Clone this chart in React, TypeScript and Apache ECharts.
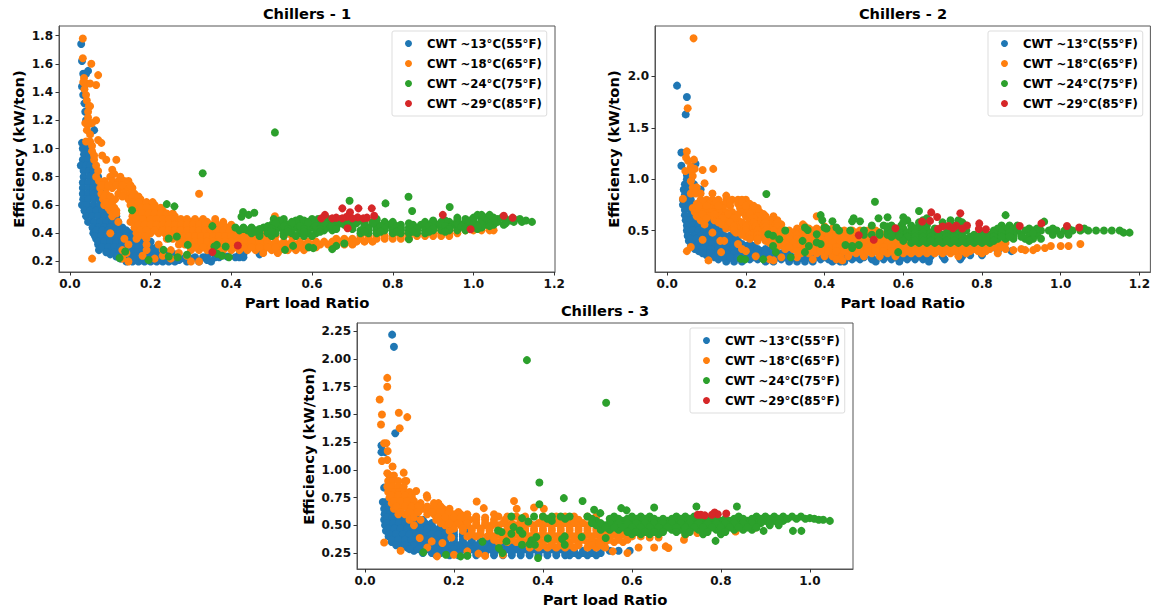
import React, { useEffect, useRef } from "react";
import * as echarts from "echarts";

type Row = [number, number[]];
const names = ["CWT ~13°C(55°F)", "CWT ~18°C(65°F)", "CWT ~24°C(75°F)", "CWT ~29°C(85°F)"];
const colors = ["#1f77b4", "#ff7f0e", "#2ca02c", "#d62728"];
const titles = ["Chillers - 1", "Chillers - 2", "Chillers - 3"];

const xTicks1 = [0, 0.2, 0.4, 0.6, 0.8, 1.0, 1.2];
const yTicks1 = [0.2, 0.4, 0.6, 0.8, 1.0, 1.2, 1.4, 1.6, 1.8];
const xTicks2 = [0, 0.2, 0.4, 0.6, 0.8, 1.0, 1.2];
const yTicks2 = [0.5, 1.0, 1.5, 2.0];
const xTicks3 = [0, 0.2, 0.4, 0.6, 0.8, 1.0];
const yTicks3 = [0.25, 0.5, 0.75, 1.0, 1.25, 1.5, 1.75, 2.0, 2.25];

// Chillers - 1: rows of [efficiency, part load ratios]
const c1Blue: Row[] = [
  [1.74,[.028]],[1.62,[.03]],[1.55,[.045]],[1.53,[.033,.04]],[1.44,[.03,.036]],[1.38,[.033]],[1.32,[.036,.04]],[1.26,[.038]],[1.2,[.04]],[1.13,[.06]],
  [1.04,[.03,.04,.05]],[1.0,[.032,.045]],[.96,[.035,.048]],[.92,[.032,.046]],[.88,[.027,.04,.05]],[.84,[.034,.047,.058]],
  [.8,[.034,.048,.06,.07]],[.76,[.032,.046,.06,.072]],[.72,[.032,.045,.058,.07]],[.68,[.032,.045,.058,.07,.082]],[.64,[.033,.046,.06,.074,.088]],
  [.6,[.03,.044,.058,.072,.086]],[.56,[.036,.05,.065,.08,.095,.105]],[.52,[.04,.055,.07,.085,.1,.115]],[.48,[.045,.06,.075,.09,.105,.12]],
  [.44,[.056,.07,.085,.1,.115,.13]],[.4,[.058,.072,.088,.104,.12,.135,.15,.175]],[.36,[.065,.08,.095,.11,.125,.14,.155]],
  [.32,[.07,.085,.1,.115,.13,.145,.16,.175,.19]],[.28,[.072,.09,.105,.12,.135,.15,.165,.18,.195,.21,.225]],
  [.25,[.1,.115,.13,.145,.16,.175,.19,.205,.22,.24,.26,.42,.43,.47]],[.23,[.31,.33,.36,.37,.41,.42,.43]],
  [.22,[.125,.14,.155,.17,.185,.2,.215,.23,.245,.26,.275,.3]],[.2,[.14,.155,.17,.185,.2,.215,.23,.245,.26,.29,.32,.35]],
  [.42,[.065,.08,.095,.11,.125,.14,.16]],[.38,[.062,.078,.092,.108,.122,.14,.16]],[.34,[.07,.085,.1,.115,.13,.145,.16,.18,.2]],[.3,[.08,.095,.11,.125,.14,.155,.17,.185,.2,.215]],
  [.265,[.09,.11,.125,.14,.155,.17,.185,.2,.215,.23,.25]],[.21,[.15,.165,.18,.195,.21,.225,.24,.27,.3,.34]],[.235,[.115,.13,.145,.16,.175,.19,.205,.22,.235,.25,.27,.29,.34,.39]],
];
const c1Orange: Row[] = [
  [1.78,[.032]],[1.64,[.032]],[1.6,[.053]],[1.52,[.07]],[1.5,[.035]],[1.47,[.033]],[1.46,[.04,.05]],[1.45,[.065]],[1.42,[.036]],[1.38,[.04]],[1.34,[.042]],[1.3,[.047,.05]],
  [1.26,[.045]],[1.22,[.045]],[1.2,[.065]],[1.18,[.038,.055]],[1.17,[.045]],[1.13,[.042]],[1.1,[.05]],[1.06,[.07]],[1.05,[.04,.05]],[1.04,[.078]],[1.02,[.055]],[.98,[.055]],
  [.95,[.06,.08]],[.92,[.06,.09,.115]],[.88,[.065]],[.85,[.105]],[.84,[.07]],[.82,[.11]],[.8,[.065,.1,.125]],
  [.77,[.072,.086,.105,.12,.135,.145]],[.72,[.075,.09,.105,.125,.14,.155]],[.68,[.078,.09,.12,.135,.15,.16,.32]],[.64,[.082,.095,.112,.145,.16,.175]],
  [.6,[.085,.1,.15,.165,.18,.195,.21]],[.56,[.1,.115,.155,.17,.185,.2,.215,.23]],[.52,[.105,.155,.17,.185,.2,.215,.23,.245,.26,.508]],
  [.48,[.12,.15,.165,.18,.195,.21,.225,.24,.255,.27,.285,.3,.32,.34,.36,.38]],[.44,[.16,.175,.19,.205,.22,.235,.25,.265,.28,.295,.31,.325,.34,.355,.37,.39]],
  [.4,[.1,.165,.18,.2,.22,.235,.25,.265,.28,.295,.31,.325,.34,.355,.37,.385,.4,.42,.44,.46,.48,.82,.84,.86,.9,.92,.94,.96]],
  [.36,[.135,.165,.19,.24,.255,.27,.285,.3,.315,.33,.345,.36,.375,.39,.405,.42,.44,.46,.48,.66,.68,.7,.72,.74,.76,.78,.8,.82,.84]],
  [.32,[.145,.19,.22,.27,.285,.3,.315,.33,.345,.36,.375,.39,.405,.42,.44,.46,.48,.5,.52,.54,.56,.58,.6,.62,.64,.66,.68,.7]],
  [.28,[.13,.19,.23,.25,.3,.32,.34,.36,.38,.4,.42,.44,.46,.48,.5,.52,.54,.56,.58]],
  [.38,[.72,.74,.76,.78,.8,.82,.84,.86,.88,.9,.92,.94]],[.42,[.92,.94,.96,.98,1.0,1.02,1.04,1.05]],[.44,[1.0,1.02,1.04]],
  [.26,[.479,.515,.14,.27]],[.24,[.23,.18,.29]],[.22,[.055,.13,.21,.25]],[.2,[.145,.3,.32]],
  [.74,[.08,.095,.115,.13,.15]],[.66,[.085,.1,.13,.155,.17]],[.62,[.09,.105,.155,.17,.19,.205]],[.58,[.095,.11,.16,.175,.19,.21,.225]],[.54,[.115,.16,.18,.195,.21,.225,.24,.255]],
  [.5,[.165,.18,.2,.215,.23,.245,.26,.275,.29,.31,.33,.36]],[.46,[.17,.185,.2,.215,.23,.245,.26,.275,.29,.305,.32,.335,.35,.365,.38,.4]],
  [.42,[.175,.19,.21,.23,.245,.26,.275,.29,.305,.32,.335,.35,.365,.38,.395,.41,.43,.45,.47]],
  [.38,[.17,.185,.25,.265,.28,.295,.31,.325,.34,.355,.37,.385,.4,.415,.43,.45,.47,.49,.51,.53,.55]],
  [.34,[.28,.295,.31,.325,.34,.355,.37,.385,.4,.415,.43,.45,.47,.49,.51,.53,.55,.57,.59,.61,.63,.65,.67,.69,.71,.73,.75]],
  [.3,[.31,.33,.35,.37,.39,.41,.43,.45,.47,.49,.51,.53,.55,.57,.59,.61]],
];
const c1Green: Row[] = [
  [1.114,[.508]],[.825,[.329]],[.658,[.839]],[.63,[.693]],[.611,[.782]],[.606,[.24]],[.59,[.259]],[.585,[.941]],[.562,[.154]],[.557,[.848]],[.55,[.429]],[.545,[.457]],[.53,[.443]],[.517,[.425]],
  [.5,[.505,.53,.57,.6,.615,.64,.67,.7,.73,.76,.98,1.0,1.02,1.04,1.06,1.08,1.1,1.115]],
  [.48,[.51,.53,.55,.57,.59,.61,.63,.65,.67,.69,.71,.73,.75,.78,.8,.88,.9,.92,.94,.96,.98,1.0,1.02,1.04,1.06,1.08,1.1,1.12,1.145]],
  [.46,[.5,.52,.54,.56,.58,.6,.62,.64,.66,.68,.7,.73,.76,.79,.82,.85,.87,.89,.91,.93,.95,.97,.99,1.01,1.03,1.05,1.075]],
  [.44,[.41,.43,.45,.48,.5,.52,.54,.56,.58,.6,.62,.64,.66,.7,.74,.76,.78,.8,.82,.84,.86,.88,.9,.92,.94,.96,.98,1.0,1.02]],
  [.42,[.42,.44,.46,.49,.51,.53,.55,.57,.59,.61,.63,.65,.72,.74,.76,.78,.8,.82,.84,.86,.88,.9,.92,.94,.96,.98]],
  [.4,[.45,.47,.49,.51,.53,.55,.57,.59,.61,.72,.74,.76,.8,.82,.84,.86,.88]],[.38,[.47,.5,.53,.56,.58,.6]],
  [.45,[.353]],[.376,[.265]],[.362,[.245]],[.357,[.84]],[.327,[.68]],[.317,[.292,.364]],[.31,[.553,.66]],[.306,[.358,.386]],[.3,[.592]],[.294,[.603]],[.287,[.65]],[.282,[.232,.533]],[.27,[.137]],
  [.254,[.365]],[.247,[.29]],[.24,[.377]],[.235,[.245]],[.23,[.267,.394]],[.224,[.123]],[.21,[.195]],
  [.49,[.52,.56,.58,.6,.63,.66,.69,.72,.76,.9,.93,.96,.99,1.02,1.05,1.09,1.13]],[.47,[.51,.55,.59,.63,.67,.71,.75,.8,.84,.88,.92,.96,1.0,1.04,1.08]],[.45,[.49,.53,.57,.61,.65,.69,.73,.77,.81,.85,.89,.93,.97,1.01,1.04]],
  [.43,[.43,.47,.5,.54,.58,.62,.66,.7,.74,.78,.82,.86,.9,.94,.98,1.01]],[.41,[.46,.5,.54,.58,.62,.73,.77,.81,.85,.89,.93]],[.51,[.96,1.0,1.03,1.05,1.07]],[.53,[1.01,1.02,1.04]],
];
const c1Red: Row[] = [
  [.576,[.675,.715,.748]],[.548,[.694]],[.53,[.632,.924]],[.524,[.754,1.075]],[.517,[.686]],[.512,[.713]],[.51,[.66,.736,1.097]],[.505,[.623,.65,.675,.7,.727]],[.435,[.688]],[.428,[.993]],[.313,[.416]],[.266,[.353]],
];

// Chillers - 2
const c2Blue: Row[] = [
  [1.91,[.025]],[1.8,[.05]],[1.63,[.047]],[1.26,[.036]],[1.15,[.072]],[1.13,[.036]],[1.04,[.05,.058]],[1.0,[.05,.06]],[.95,[.045,.055,.068]],[.9,[.042,.055,.07,.085]],[.85,[.045,.058]],
  [.8,[.04,.05,.06]],[.75,[.04,.055,.07]],[.7,[.045,.06,.075,.09]],[.65,[.045,.06,.075,.09]],[.6,[.047,.06,.075,.09,.105]],[.55,[.05,.065,.08,.095,.11,.125]],[.5,[.05,.065,.08,.095,.11,.125,.14]],
  [.45,[.052,.068,.085,.1,.115,.13,.145,.16]],[.4,[.055,.07,.085,.1,.115,.13,.15,.165,.18]],[.35,[.06,.075,.09,.105,.12,.14,.16,.18,.2,.22]],[.3,[.08,.1,.12,.14,.16,.18,.2,.22,.24,.26,.875,.84]],
  [.26,[.1,.12,.14,.16,.18,.2,.22,.24,.26,.28,.3,.8,.77]],[.25,[.38,.4,.45,.5,.54,.56,.6,.62,.64,.66,.67,.7,.75]],
  [.22,[.13,.15,.17,.19,.21,.23,.25,.27,.29,.31,.33,.35,.37,.39,.41,.43,.45,.47,.49,.52,.55,.57,.59,.61,.63,.65,.665,.705,.745]],[.2,[.15,.17,.19,.25,.27,.31,.33,.35,.37,.42,.44,.45,.53,.59,.665]],
  [.42,[.06,.075,.09,.105,.12,.14,.16,.175]],[.37,[.065,.08,.1,.115,.13,.15,.17,.19,.21]],[.32,[.07,.09,.11,.13,.15,.17,.19,.21,.23,.25]],[.28,[.09,.11,.13,.15,.17,.19,.21,.23,.25,.27,.29,.31]],
  [.24,[.12,.14,.16,.18,.2,.22,.24,.26,.28,.3,.32,.34,.36,.4,.42,.44,.46,.48,.5,.52,.55,.58,.6,.63,.66]],
];
const c2Orange: Row[] = [
  [2.37,[.067]],[1.69,[.052]],[1.27,[.05]],[1.21,[.048]],[1.19,[.068]],[1.18,[.053]],[1.12,[.06]],[1.1,[.07,.117]],[1.09,[.09]],[1.08,[.046,.062]],[1.03,[.065]],[.98,[.06]],[.96,[.095]],[.92,[.065,.075]],
  [.86,[.06,.072,.085,.115]],[.84,[.15]],[.81,[.04]],
  [.8,[.085,.1,.115,.13,.15,.165,.18,.19,.2]],[.76,[.075,.09,.105,.12,.135,.15,.18,.195,.21]],[.72,[.065,.08,.095,.11,.125,.14,.185,.2,.215,.23]],[.68,[.07,.085,.1,.115,.135,.15,.165,.19,.205,.22,.235]],
  [.64,[.075,.09,.105,.13,.145,.16,.175,.2,.215,.23,.25,.27,.38]],[.6,[.085,.12,.135,.15,.165,.18,.21,.225,.24,.26,.27,.28]],[.56,[.095,.14,.155,.17,.185,.2,.215,.23,.245,.26,.275,.29,.345]],
  [.52,[.15,.165,.18,.195,.21,.23,.245,.26,.28,.33,.36,.38,.4,.42]],[.48,[.115,.175,.19,.205,.22,.24,.26,.28,.3,.32,.34,.36,.38,.4,.42,.44,.46,.48,.5,.52,.54]],
  [.44,[.2,.22,.24,.26,.28,.3,.32,.34,.36,.38,.4,.42,.44,.46,.48,.5,.52,.54,.56]],[.4,[.135,.145,.23,.25,.27,.29,.31,.33,.35,.37,.39,.41,.43,.45,.47,.49,.51,.53,.55,.57,.6]],
  [.41,[.09]],[.37,[.18,1.05]],[.35,[.975,1.0,1.02]],[.33,[.94,.96]],[.34,[.06]],[.32,[.19,.9]],[.31,[.88,.91,.93]],[.3,[.05,.2]],[.29,[.137]],
  [.36,[.27,.29,.31,.33,.35,.37,.39,.41,.43,.45,.47,.49,.51,.53,.55,.57,.59,.61,.63,.65,.67,.69,.71,.73,.75,.77,.79,.81,.83,.85]],
  [.32,[.3,.32,.34,.36,.38,.4,.42,.44,.46,.48,.5,.52,.54,.56,.58,.6,.62,.64,.66,.68,.7,.72,.74,.76,.78,.8,.82,.84,.86]],
  [.28,[.34,.36,.38,.42,.44,.46,.48,.5,.52,.54,.56,.58,.6,.62,.64,.66,.68,.7,.72,.74,.76,.8,.84]],
  [.25,[.225,.4,.42,.44,.46,.5,.54,.58,.74]],[.24,[.29,.33]],[.22,[.26,.37,.43]],[.21,[.105,.27,.445]],
  [.78,[.09,.125,.16,.19]],[.74,[.08,.1,.13,.16,.2,.22]],[.66,[.09,.12,.155,.18,.21,.245]],[.62,[.1,.14,.17,.22,.25]],[.58,[.13,.16,.19,.22,.25,.28]],[.54,[.17,.2,.225,.25,.28,.35,.4]],
  [.5,[.17,.2,.23,.25,.27,.29,.31,.35,.37,.39,.41,.43,.45,.47,.49,.51,.53]],[.46,[.19,.21,.23,.25,.27,.29,.31,.33,.35,.37,.39,.41,.43,.45,.47,.49,.51,.53,.55,.57]],
  [.42,[.21,.23,.25,.27,.29,.31,.33,.35,.37,.39,.41,.43,.45,.47,.49,.51,.53,.55,.57,.59,.61,.63]],[.38,[.26,.28,.3,.32,.34,.36,.38,.4,.42,.44,.46,.48,.5,.52,.54,.56,.58,.6,.62,.64,.66,.7,.74,.78,.82,.84,.86]],
  [.34,[.28,.31,.33,.35,.37,.39,.41,.43,.45,.47,.49,.51,.53,.55,.57,.59,.61,.63,.65,.67,.69,.71,.73,.75,.77,.79,.81,.83,.85]],[.3,[.33,.35,.37,.39,.41,.43,.45,.47,.49,.51,.53,.55,.57,.59,.61,.63,.65,.67,.69,.71,.73,.75,.77,.79,.81]],
];
const c2Green: Row[] = [
  [.855,[.252]],[.78,[.528]],[.69,[.64]],[.65,[.39,.86]],[.63,[.56,.6]],[.62,[.474,.537,.66]],[.6,[.394,.61,.65,.72,.74]],[.59,[.42,.47,.49]],[.587,[.958]],
  [.55,[.52,.55,.57,.595,.62,.64,.66,.7,.73,.76,.85,.87,.89]],[.54,[.56]],[.53,[.35,.4,.43]],[.505,[.357]],[.52,[.405]],[.5,[.3,.437,.465,.5]],
  [.5,[.56,.58,.6,.62,.64,.66,.68,.72,.76,.83,.85,.87,.89,.91,.93,.95,.97,.99,1.01,1.03,1.05,1.07,1.09,1.11,1.13,1.15]],[.48,[1.16,1.175]],
  [.465,[.257,.38]],[.45,[.269]],[.46,[.5,.52,.54,.56,.58,.6,.62,.64,.66,.68,.7,.72,.74,.78,.8,.82,.84,.86,.88,.9,.92,.94,.98,1.0,1.02]],
  [.42,[.6,.62,.64,.66,.68,.7,.72,.74,.76,.78,.8,.82,.84,.86,.88,.91,.93,.95]],[.415,[.285]],[.4,[.344]],[.385,[.38]],[.38,[.62,.64,.66,.68,.7,.72,.74,.76,.78,.8,.82]],
  [.37,[.39]],[.36,[.453,.487]],[.35,[.269,.36,.47]],[.33,[.47]],[.29,[.276,.35,.587]],[.24,[.314]],[.225,[.187]],[.22,[.198,.244]],
  [.52,[.58,.6,.63,.65,.68,.74,.84,.86,.88,.92,.94,.98,1.02,1.06]],[.48,[.54,.57,.59,.61,.63,.65,.67,.69,.71,.73,.75,.8,.83,.85,.87,.93]],[.44,[.57,.59,.61,.63,.65,.67,.69,.71,.73,.75,.77,.79,.81,.83,.85,.87,.9]],
  [.4,[.6,.63,.65,.67,.69,.71,.73,.75,.77,.79,.81,.83,.92]],[.58,[.6,.64,.66,.7,.75]],
];
const c2Red: Row[] = [
  [.677,[.671]],[.668,[.745]],[.632,[.686]],[.594,[.668]],[.587,[.648]],[.57,[.793,.951]],[.55,[.762]],[.548,[.735]],[.545,[.715,.896,1.016]],[.54,[.7]],[.53,[1.047]],[.523,[.58,.726]],[.52,[.75]],[.516,[.688,.792]],[.513,[.81]],[.455,[.487]],[.41,[.525]],
];

// Chillers - 3
const c3Blue: Row[] = [
  [2.22,[.061]],[2.11,[.065]],[1.33,[.068]],[1.22,[.037]],[1.16,[.037,.045]],[.84,[.043]],[.71,[.04,.048]],[.65,[.043,.055,.065]],
  [.6,[.044,.056,.068,.08,.092]],[.55,[.043,.055,.067,.08,.092,.105,.12,.13]],[.5,[.045,.057,.07,.083,.095,.11,.125,.14,.15,.17]],[.45,[.047,.06,.073,.086,.1,.115,.13,.145,.16,.18,.19,.2,.235]],
  [.4,[.053,.066,.08,.095,.11,.125,.14,.155,.17,.185,.2,.22,.24]],[.35,[.06,.075,.09,.105,.12,.135,.15,.165,.18,.2,.22,.24,.26,.28]],[.3,[.08,.095,.11,.125,.14,.16,.18,.2,.22,.24,.26,.28,.3,.32,.34,.36,.38]],
  [.27,[.11,.13,.15,.17,.19,.21,.23,.25,.27,.29,.31,.33,.35,.37,.39,.41,.43,.45,.47,.49,.51,.55,.57,.595]],
  [.23,[.16,.19,.21,.23,.25,.27,.29,.31,.33,.35,.37,.39,.41,.43,.45,.46,.48,.5,.52]],
  [.57,[.05,.062,.075,.09,.1,.115]],[.52,[.05,.063,.076,.09,.103,.118,.135,.15]],[.47,[.052,.066,.08,.095,.11,.125,.14,.155,.17]],[.42,[.055,.07,.085,.1,.115,.13,.15,.165,.18,.2,.22]],
  [.37,[.06,.075,.09,.105,.12,.14,.16,.18,.2,.22,.24,.26]],[.32,[.07,.09,.11,.13,.15,.17,.19,.21,.23,.25,.27,.29,.31,.33,.35]],[.285,[.1,.12,.14,.16,.18,.2,.22,.24,.26,.28,.3,.32,.34,.36,.38,.4,.42,.44,.46]],
  [.25,[.13,.15,.17,.19,.21,.23,.25,.27,.29,.31,.33,.35,.37,.39,.41,.43,.45,.47,.49,.51,.53]],
];
const c3Orange: Row[] = [
  [1.83,[.05]],[1.75,[.05]],[1.635,[.033]],[1.515,[.076]],[1.5,[.038]],[1.476,[.095]],[1.41,[.036]],[1.375,[.078]],[1.24,[.043,.048]],[1.17,[.051]],[1.09,[.05]],[1.08,[.038]],[1.03,[.062]],[.975,[.087]],[.97,[.05]],
  [.95,[.055,.065]],[.9,[.052,.063,.075,.09,.093]],[.85,[.05,.062,.075,.087]],[.81,[.115]],[.8,[.052,.064,.076,.088,.1]],[.77,[.139]],[.75,[.055,.068,.08,.092,.105,.14]],[.72,[.335]],[.715,[.251]],
  [.7,[.06,.072,.085,.097,.11,.125,.155,.165]],[.66,[.38]],[.655,[.267]],[.65,[.065,.08,.1,.115,.13,.145,.16,.175,.19,.341,.402]],
  [.6,[.075,.09,.105,.14,.155,.17,.185,.2,.215,.23,.29]],[.58,[.25,.3,.32,.34,.36,.4,.43,.45,.47,.5,.52]],[.55,[.1,.125,.16,.175,.19,.205,.22,.235,.25,.27,.29,.315,.35,.4,.42,.44,.46,.48]],
  [.5,[.11,.18,.2,.215,.23,.25,.27,.285,.3,.32,.34,.36,.38,.4,.42,.44,.46,.48,.5,.52]],[.45,[.19,.22,.24,.26,.28,.3,.32,.34,.36,.38,.4,.42,.44,.46,.48,.5,.52,.54,.56,.58]],
  [.4,[.23,.25,.275,.29,.31,.33,.35,.37,.39,.41,.43,.45,.47,.49,.51,.53,.55,.57,.6,.62]],[.35,[.3,.32,.34,.36,.38,.4,.42,.44,.46,.48,.5,.52,.54,.56,.58]],[.3,[.37,.39,.41,.43,.45,.47,.5,.52,.54]],
  [.48,[.878]],[.445,[.833]],[.43,[.747]],[.415,[.72]],[.39,[.194,.64,.66]],[.385,[.123]],[.37,[.717]],[.355,[.15]],[.345,[.043]],[.34,[.174]],[.31,[.676]],[.3,[.14,.615,.65]],[.295,[.682]],
  [.27,[.08]],[.265,[.23,.557]],[.25,[.59]],[.245,[.255]],[.235,[.2,.31]],[.225,[.27]],[.22,[.162]],
  [.77,[.06,.075,.09,.105]],[.72,[.065,.08,.095,.11]],[.67,[.07,.09,.105,.12,.14,.155,.17]],[.62,[.08,.1,.12,.15,.17,.19,.21]],[.57,[.11,.165,.18,.2,.215,.23,.25,.27]],
  [.52,[.17,.19,.21,.23,.25,.27,.29,.31,.33,.35,.37,.39,.41,.43,.45,.47,.49,.51]],[.47,[.2,.22,.24,.26,.28,.3,.32,.34,.36,.38,.4,.42,.44,.46,.48,.5,.52,.54,.56]],
  [.42,[.24,.26,.28,.3,.32,.34,.36,.38,.4,.42,.44,.46,.48,.5,.52,.54,.56,.58,.6]],[.37,[.29,.31,.33,.35,.37,.39,.41,.43,.45,.47,.49,.51,.53,.55,.57,.59]],[.32,[.38,.4,.42,.44,.46,.48,.51,.53]],
];
const c3Green: Row[] = [
  [1.99,[.364]],[1.605,[.542]],[.886,[.392]],[.745,[.447]],[.72,[.489]],[.69,[.392]],[.67,[.745,.836]],[.66,[.65]],[.655,[.576]],[.64,[.515]],[.635,[.588]],[.61,[.529]],
  [.58,[.329,.38,.4,.42,.44,.46,.5,.56,.6,.62,.64,.7,.72,.74,.76,.84,.88,.9,.92,.94,.96,.98]],[.565,[.353,1.0]],[.535,[.367]],
  [.54,[.42,.52,.56,.58,.6,.62,.64,.66,.68,.7,.72,.74,.76,.78,.8,.82,.84,.86,.88,.9,.92,.94,1.045]],
  [.5,[.52,.54,.56,.58,.6,.62,.64,.66,.68,.7,.72,.74,.76,.78,.8,.82,.84,.86,.88,.91,.93]],[.484,[.334]],
  [.46,[.53,.55,.57,.59,.61,.63,.65,.67,.69,.71,.73,.75,.77,.79,.81,.83,.85,.87]],[.454,[.299,.348]],[.45,[.896,.962,.981]],[.44,[.307]],[.424,[.329,.354]],[.42,[.6,.62,.64,.66,.72,.76,.8]],
  [.4,[.449]],[.394,[.385,.487]],[.385,[.541]],[.382,[.411]],[.376,[.443]],[.364,[.374]],[.36,[.788]],[.355,[.318]],[.352,[.264]],[.33,[.37]],[.325,[.353,.382,.449]],[.295,[.301]],[.256,[.131]],[.25,[.309]],[.235,[.182]],[.226,[.23]],[.22,[.215]],[.205,[.389]],
  [.56,[.41,.45,.51,.55,.57,.59,.61,.63,.65,.67,.69,.71,.73,.75,.77,.79,.81,.83,.85,.87,.89,.91,.93,.95,.97,.99,1.01]],[.55,[1.02,1.03]],
  [.52,[.51,.53,.55,.57,.59,.61,.63,.65,.67,.69,.71,.73,.75,.77,.79,.81,.83,.85,.87,.89,.91,.93]],[.48,[.54,.56,.58,.6,.62,.64,.66,.68,.7,.72,.74,.76,.78,.8,.82,.84,.86,.88]],[.44,[.59,.61,.63,.65,.67,.7,.73,.77,.81]],
];
const c3Red: Row[] = [[.615,[.786]],[.607,[.812]],[.6,[.793]],[.595,[.748,.755,.78]],[.59,[.764]]];

const seriesRows: Row[][][] = [
  [c1Blue, c1Orange, c1Green, c1Red],
  [c2Blue, c2Orange, c2Green, c2Red],
  [c3Blue, c3Orange, c3Green, c3Red],
];
const expand = (rows: Row[]) => rows.flatMap(([y, xs]) => xs.map((x) => [x, y]));

const panels = [
  { left: 59, right: 555, top: 26, bottom: 272, xMin: -0.027, xMax: 1.202, yMin: 0.125, yMax: 1.868, xTicks: xTicks1, yTicks: yTicks1, dec: 1, legendLeft: 392, legendTop: 31, nameGap: 33 },
  { left: 655, right: 1151, top: 26, bottom: 272, xMin: -0.031, xMax: 1.228, yMin: 0.097, yMax: 2.49, xTicks: xTicks2, yTicks: yTicks2, dec: 1, legendLeft: 988, legendTop: 31, nameGap: 34 },
  { left: 357, right: 853, top: 323, bottom: 569, xMin: -0.018, xMax: 1.097, yMin: 0.106, yMax: 2.325, xTicks: xTicks3, yTicks: yTicks3, dec: 2, legendLeft: 690, legendTop: 328, nameGap: 41 },
];

const FONT = "DejaVu Sans";

export default function App() {
  const ref = useRef<HTMLDivElement>(null);
  useEffect(() => {
    const chart = echarts.init(ref.current!, undefined, { renderer: "svg" });
    chart.setOption({
      animation: false,
      backgroundColor: "#fff",
      textStyle: { fontFamily: FONT },
      title: panels.map((p, i) => ({
        text: titles[i],
        left: (p.left + p.right) / 2,
        top: p.top - 20,
        textAlign: "center",
        padding: 0,
        textStyle: { fontFamily: FONT, fontSize: 14.6, fontWeight: "bold", color: "#000" },
      })),
      grid: panels.map((p) => ({
        left: p.left,
        top: p.top,
        width: p.right - p.left,
        height: p.bottom - p.top,
        show: true,
        borderColor: "#555",
        borderWidth: 1,
        containLabel: false,
      })),
      xAxis: panels.map((p, i) => ({
        type: "value",
        gridIndex: i,
        min: p.xMin,
        max: p.xMax,
        name: "Part load Ratio",
        nameLocation: "middle",
        nameGap: 23,
        nameTextStyle: { fontFamily: FONT, fontSize: 14.8, fontWeight: "bold", color: "#000" },
        splitLine: { show: false },
        axisLine: { show: true, onZero: false, lineStyle: { color: "#555", width: 1 } },
        axisTick: { show: true, length: 3.5, customValues: p.xTicks, lineStyle: { color: "#333" } },
        axisLabel: {
          customValues: p.xTicks,
          formatter: (v: number) => v.toFixed(1),
          fontFamily: FONT, fontSize: 12, fontWeight: "bold", color: "#111", margin: 6,
        },
      })),
      yAxis: panels.map((p, i) => ({
        type: "value",
        gridIndex: i,
        min: p.yMin,
        max: p.yMax,
        name: "Efficiency (kW/ton)",
        nameLocation: "middle",
        nameGap: p.nameGap,
        nameTextStyle: { fontFamily: FONT, fontSize: 14.8, fontWeight: "bold", color: "#000" },
        splitLine: { show: false },
        axisLine: { show: true, onZero: false, lineStyle: { color: "#555", width: 1 } },
        axisTick: { show: true, length: 3.5, customValues: p.yTicks, lineStyle: { color: "#333" } },
        axisLabel: {
          customValues: p.yTicks,
          formatter: (v: number) => v.toFixed(p.dec),
          fontFamily: FONT, fontSize: 12, fontWeight: "bold", color: "#111", margin: 6,
        },
      })),
      legend: panels.map((p) => ({
        data: names,
        orient: "vertical",
        left: p.legendLeft,
        top: p.legendTop,
        icon: "circle",
        itemWidth: 27,
        itemHeight: 7,
        itemGap: 7,
        padding: [6, 5, 6, 13],
        backgroundColor: "rgba(255,255,255,0.8)",
        borderColor: "#ddd",
        borderWidth: 1,
        borderRadius: 2,
        selectedMode: false,
        textStyle: { fontFamily: FONT, fontSize: 11.7, fontWeight: "bold", color: "#000", lineHeight: 13 },
      })),
      series: seriesRows.flatMap((group, i) =>
        group.map((rows, k) => ({
          type: "scatter",
          name: names[k],
          xAxisIndex: i,
          yAxisIndex: i,
          symbol: "circle",
          symbolSize: 8,
          silent: true,
          itemStyle: { color: colors[k], opacity: 1 },
          data: expand(rows),
        })),
      ),
    });
    return () => chart.dispose();
  }, []);
  return <div ref={ref} style={{ position: "absolute", left: 0, top: 0, width: 1153, height: 610 }} />;
}
